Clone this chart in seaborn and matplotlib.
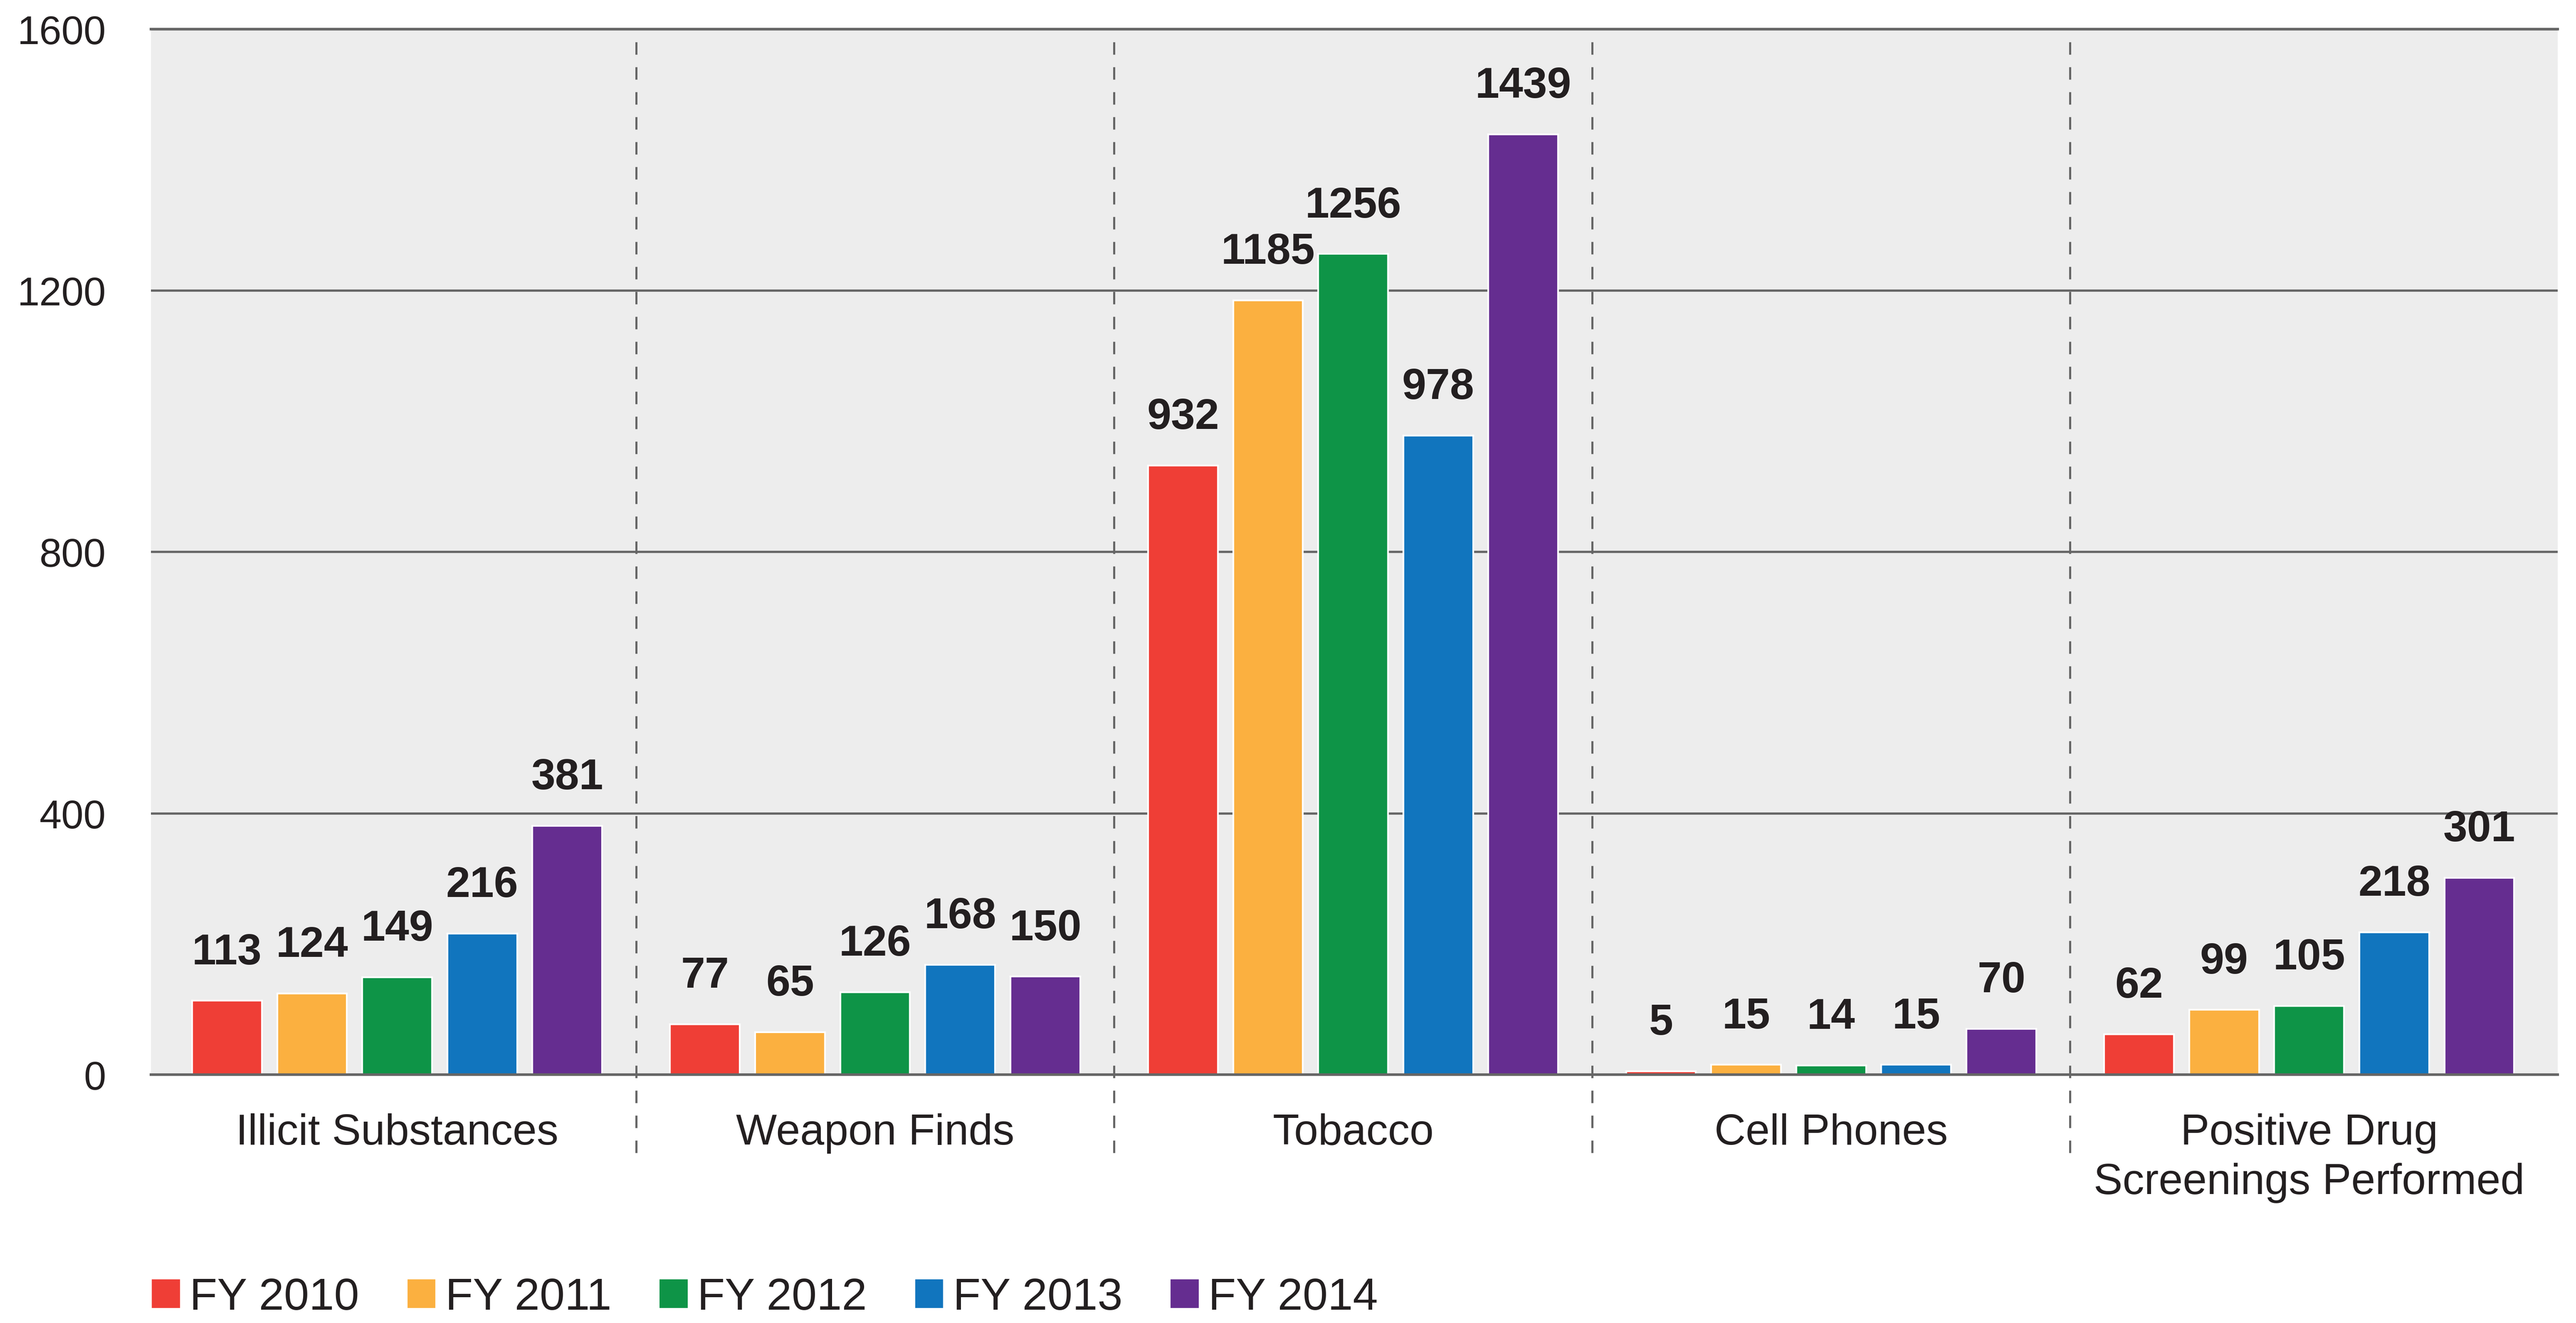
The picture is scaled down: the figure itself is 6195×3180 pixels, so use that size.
import pandas as pd
import matplotlib
matplotlib.use('Agg')
import matplotlib.pyplot as plt
import seaborn as sns

# Chart data
categories = ['Illicit Substances', 'Weapon Finds', 'Tobacco', 'Cell Phones',
              'Positive Drug\nScreenings Performed']
years = ['FY 2010', 'FY 2011', 'FY 2012', 'FY 2013', 'FY 2014']
fy2010 = [113, 77, 932, 5, 62]
fy2011 = [124, 65, 1185, 15, 99]
fy2012 = [149, 126, 1256, 14, 105]
fy2013 = [216, 168, 978, 15, 218]
fy2014 = [381, 150, 1439, 70, 301]
y_ticks = [0, 400, 800, 1200, 1600]

colors = ['#EF3E36', '#FBB040', '#0E9447', '#1175BE', '#652D90']

# Build long-form table
rows = []
for year, vals in zip(years, [fy2010, fy2011, fy2012, fy2013, fy2014]):
    for cat, v in zip(categories, vals):
        rows.append({'category': cat, 'year': year, 'value': v})
df = pd.DataFrame(rows)

sns.set_style('white')
plt.rcParams['font.family'] = ['Liberation Sans', 'DejaVu Sans']
text_color = '#231F20'
line_color = '#666666'

fig = plt.figure(figsize=(20.65, 10.603), dpi=300)
ax = fig.add_axes([0.0586, 0.1877, 0.9343, 0.7900])
ax.set_facecolor('#EDEDED')

sns.barplot(data=df, x='category', y='value', hue='year', order=categories,
            hue_order=years, palette=colors, width=0.89, gap=0.18,
            saturation=1, ax=ax, zorder=3)

# value labels
for container in ax.containers:
    ax.bar_label(container, fmt='%d', padding=16, fontsize=25,
                 fontweight='bold', color=text_color)

ax.set_xlim(-0.515, 4.52)
ax.set_ylim(0, 1600)
ax.set_yticks(y_ticks)
ax.set_yticklabels([str(t) for t in y_ticks])
ax.set_xlabel('')
ax.set_ylabel('')

ax.yaxis.grid(True, color=line_color, linewidth=1.3)
ax.xaxis.grid(False)
ax.set_axisbelow(True)
ax.tick_params(axis='y', length=0, pad=26, labelsize=23, labelcolor=text_color)
ax.tick_params(axis='x', length=0, pad=22, labelsize=25, labelcolor=text_color)
for lbl in ax.get_xticklabels():
    lbl.set_linespacing(1.3)

for side in ['left', 'right']:
    ax.spines[side].set_visible(False)
for side in ['top', 'bottom']:
    ax.spines[side].set_visible(True)
    ax.spines[side].set_color(line_color)
    ax.spines[side].set_linewidth(1.5)
ax.spines['bottom'].set_zorder(4)

# dashed separators between groups
for xs in [0.5, 1.5, 2.5, 3.5]:
    ax.axvline(xs, ymin=-0.075, ymax=1, color=line_color, linewidth=1.2,
               linestyle=(0, (6, 6)), clip_on=False, zorder=1)

# legend along the bottom
handles, labels = ax.get_legend_handles_labels()
ax.get_legend().remove()
fig.legend(handles, labels, loc='center left', bbox_to_anchor=(0.0586, 0.019),
           ncol=5, frameon=False, fontsize=26, handlelength=0.66,
           handleheight=0.66, handletextpad=0.2, columnspacing=1.05,
           borderpad=0, borderaxespad=0, labelcolor=text_color)

fig.savefig('out.png', dpi=300)
